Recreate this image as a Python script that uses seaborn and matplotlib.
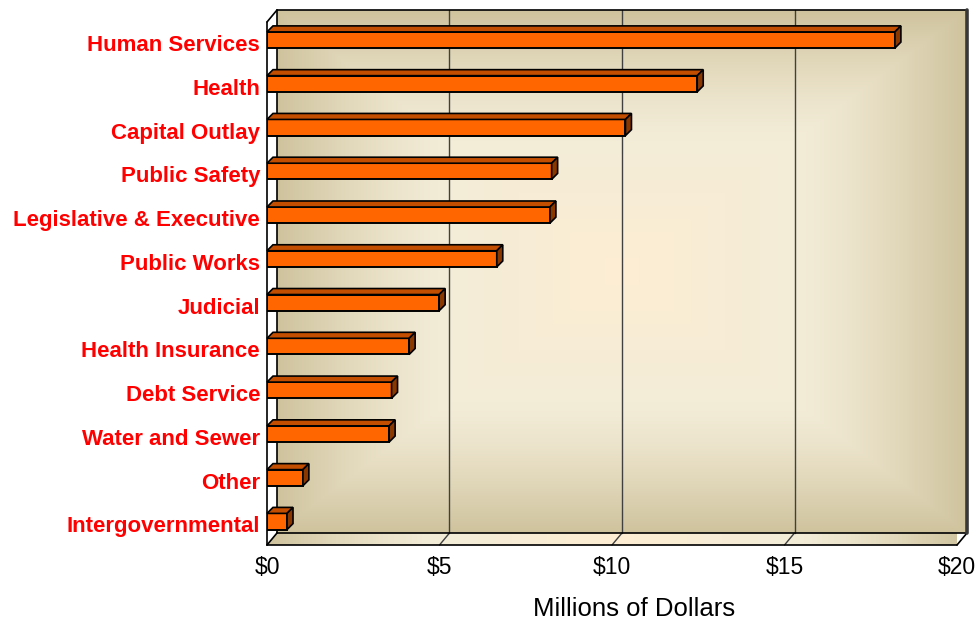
import numpy as np
import pandas as pd
import matplotlib
matplotlib.use("Agg")
import matplotlib.pyplot as plt
import matplotlib.transforms as mtransforms
from matplotlib.patches import Polygon
import seaborn as sns

# ---- data ----
categories = ["Human Services", "Health", "Capital Outlay", "Public Safety",
              "Legislative & Executive", "Public Works", "Judicial",
              "Health Insurance", "Debt Service", "Water and Sewer", "Other",
              "Intergovernmental"]
values = [18.2, 12.47, 10.39, 8.25, 8.2, 6.66, 4.99, 4.12, 3.61, 3.54, 1.04, 0.58]
x_ticks = [0, 5, 10, 15, 20]
x_tick_labels = ["$0", "$5", "$10", "$15", "$20"]
x_label = "Millions of Dollars"

sns.set_theme(style="white")
plt.rcParams["font.family"] = ["Liberation Sans", "DejaVu Sans"]

W, H = 979, 622
fig = plt.figure(figsize=(W / 100, H / 100), dpi=100)
fig.patch.set_facecolor("white")
ax = fig.add_axes([267 / W, 1 - 545 / H, 690 / W, 523 / H])
ax.patch.set_visible(False)

XMIN, XMAX = 0, 20
YB, YT = 11.537, -0.411

df = pd.DataFrame({"category": categories, "value": values})
sns.barplot(data=df, x="value", y="category", orient="h", color="#FF6600",
            saturation=1, edgecolor="black", linewidth=1.4, width=0.37,
            ax=ax, zorder=5)

sx = 690 / (XMAX - XMIN)      # px per unit
sy = 523 / (YB - YT)          # px per category
wdx, wdy = 10 / sx, 12 / sy   # wall depth
bdx, bdy = 6 / sx, 6 / sy     # bar depth


def grad_img(nx, ny, horizontal_only=False):
    u = np.linspace(-1, 1, nx)[None, :]
    v = np.linspace(-1, 1, ny)[:, None]
    if horizontal_only:
        t = np.abs(u) * np.ones_like(v)
    else:
        t = np.maximum(np.abs(u), np.abs(v))
    c0 = np.array([253, 238, 211]) / 255
    c1 = np.array([243, 236, 215]) / 255
    c2 = np.array([207, 195, 157]) / 255
    a = np.clip(t / 0.5, 0, 1)[..., None]
    s = np.clip((t - 0.5) / 0.5, 0, 1)[..., None] ** 1.4
    inner = c0 * (1 - a) + c1 * a
    img = np.where(t[..., None] <= 0.5, inner, c1 * (1 - s) + c2 * s)
    return img


# back wall
ax.imshow(grad_img(400, 300), extent=[XMIN + wdx, XMAX + wdx, YB - wdy, YT - wdy],
          aspect="auto", zorder=0, clip_on=False, interpolation="bilinear")
# left wall
ax.add_patch(Polygon([(XMIN, YB), (XMIN, YT), (XMIN + wdx, YT - wdy), (XMIN + wdx, YB - wdy)],
                     closed=True, facecolor="white", edgecolor="none", zorder=0.5, clip_on=False))
# floor
floor = Polygon([(XMIN, YB), (XMAX, YB), (XMAX + wdx, YB - wdy), (XMIN + wdx, YB - wdy)],
                closed=True, facecolor="none", edgecolor="none", zorder=0.5, clip_on=False)
ax.add_patch(floor)
fim = ax.imshow(grad_img(400, 10, True), extent=[XMIN, XMAX + wdx, YB, YB - wdy],
                aspect="auto", zorder=0.5, interpolation="bilinear")
fim.set_clip_path(floor)

# gridlines
for xv in x_ticks[1:-1]:
    ax.plot([xv + wdx] * 2, [YB - wdy, YT - wdy], color="#404040", lw=1, zorder=1, clip_on=False)
    ax.plot([xv, xv + wdx], [YB, YB - wdy], color="#404040", lw=1, zorder=1, clip_on=False)

k = dict(color="black", lw=1.2, zorder=2, clip_on=False)
ax.plot([XMIN + wdx, XMAX + wdx], [YT - wdy] * 2, **k)
ax.plot([XMIN + wdx] * 2, [YT - wdy, YB - wdy], **k)
ax.plot([XMIN + wdx, XMAX + wdx], [YB - wdy] * 2, **k)
ax.plot([XMAX, XMAX + wdx], [YB, YB - wdy], **k)
ax.plot([XMIN, XMAX], [YB, YB], **k)
ax.plot([XMIN, XMIN], [YB, YT], **k)
ax.plot([XMIN, XMIN + wdx], [YT, YT - wdy], **k)
ax.plot([XMIN, XMIN + wdx], [YB, YB - wdy], **k)
ax.plot([XMAX + wdx] * 2, [YT - wdy, YB - wdy], color="#383838", lw=2.6, zorder=2, clip_on=False)

# 3D bar faces
bars = list(ax.patches)
for p in bars:
    if not hasattr(p, "get_width"):
        continue
    x0, w, y, h = p.get_x(), p.get_width(), p.get_y(), p.get_height()
    top = [(x0, y), (x0 + w, y), (x0 + w + bdx, y - bdy), (x0 + bdx, y - bdy)]
    side = [(x0 + w, y), (x0 + w, y + h), (x0 + w + bdx, y + h - bdy), (x0 + w + bdx, y - bdy)]
    ax.add_patch(Polygon(top, closed=True, facecolor="#C44E00", edgecolor="black",
                         lw=1.2, zorder=5, clip_on=False))
    ax.add_patch(Polygon(side, closed=True, facecolor="#8A3700", edgecolor="black",
                         lw=1.2, zorder=5, clip_on=False))

ax.set_xlim(XMIN, XMAX)
ax.set_ylim(YB, YT)
for s in ax.spines.values():
    s.set_visible(False)
ax.grid(False)

ax.set_xticks(x_ticks)
ax.set_xticklabels(x_tick_labels, fontsize=16.5, color="black")
ax.tick_params(axis="x", length=0, pad=8)
ax.tick_params(axis="y", length=0, pad=5)
ax.set_ylabel("")
for lab in ax.get_yticklabels():
    lab.set_fontsize(16)
    lab.set_fontweight("bold")
    lab.set_color("#FF0000")
    lab.set_transform(lab.get_transform() +
                      mtransforms.ScaledTranslation(0, -3 / 100, fig.dpi_scale_trans))

ax.set_xlabel(x_label, fontsize=18.5, color="black")
ax.xaxis.set_label_coords(0.532, -0.099)

fig.savefig("out.png", dpi=100)
